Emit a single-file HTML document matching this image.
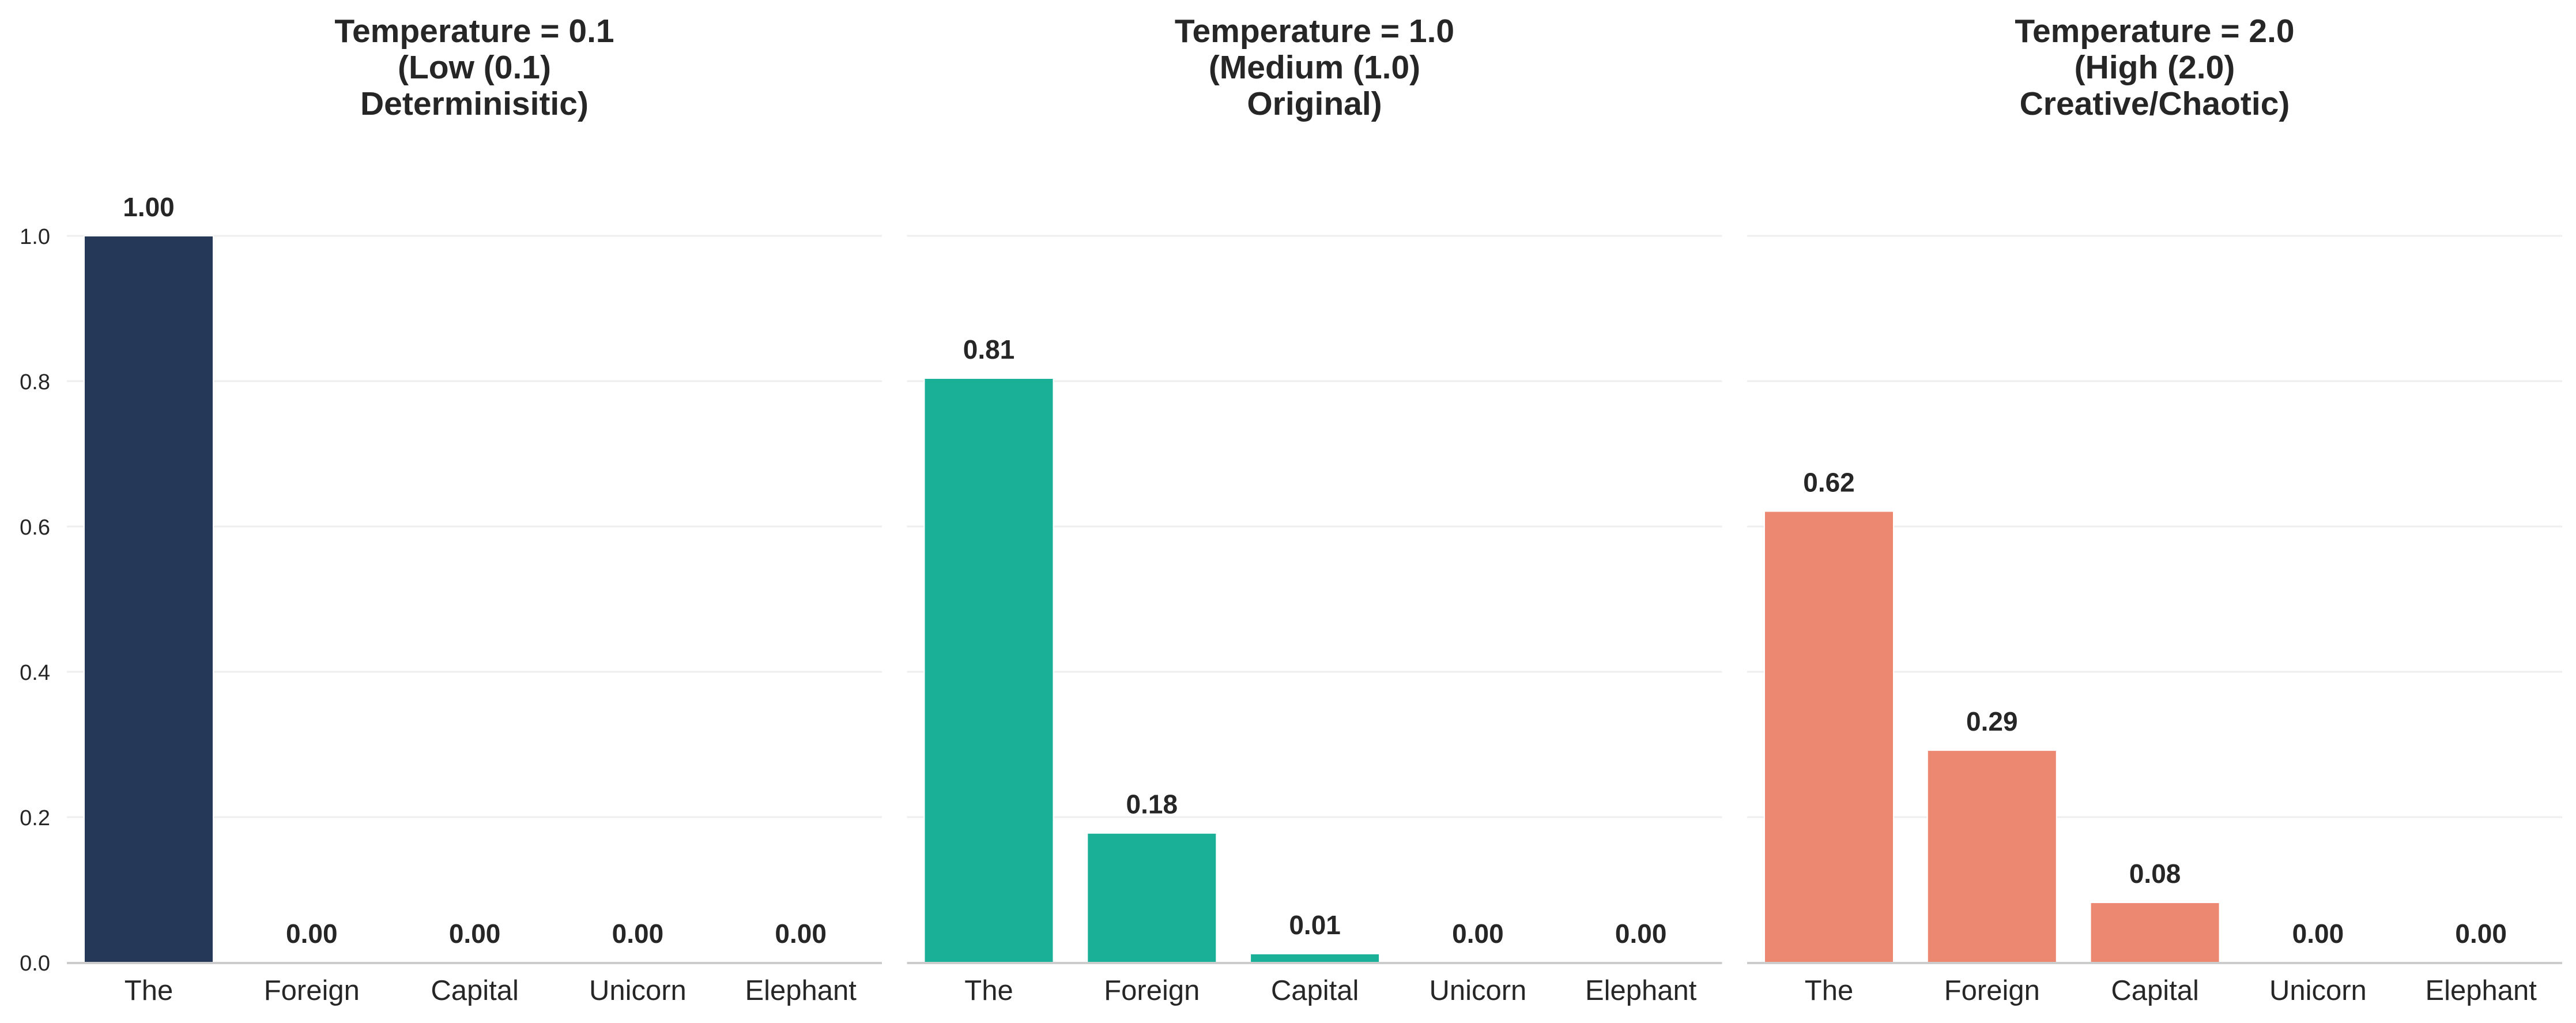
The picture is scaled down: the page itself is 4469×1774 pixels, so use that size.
<!DOCTYPE html>
<html><head><meta charset="utf-8"><style>
html,body{margin:0;padding:0;background:#fff;}
svg{display:block;}
text{font-family:"Liberation Sans",Arial,sans-serif;fill:#262626;}
</style></head><body>
<svg id="s" width="4469" height="1774" xmlns="http://www.w3.org/2000/svg"></svg>
<script>
const s=document.getElementById('s');
const NS='http://www.w3.org/2000/svg';
function el(t,a,txt){const e=document.createElementNS(NS,t);for(const k in a)e.setAttribute(k,a[k]);if(txt!==undefined)e.textContent=txt;s.appendChild(e);return e;}
const P=[116,1573.5,3031],W=1414,Y0=1669,H=1260;
const cats=['The','Foreign','Capital','Unicorn','Elephant'];
const data=[[1.0,0,0,0,0],[0.804,0.178,0.012,0,0],[0.621,0.292,0.0825,0,0]];
const labs=[['1.00','0.00','0.00','0.00','0.00'],['0.81','0.18','0.01','0.00','0.00'],['0.62','0.29','0.08','0.00','0.00']];
const cols=['#253858','#1ab098','#ec8872'];
const titles=[['Temperature = 0.1','(Low (0.1)','Determinisitic)'],['Temperature = 1.0','(Medium (1.0)','Original)'],['Temperature = 2.0','(High (2.0)','Creative/Chaotic)']];
for(let p=0;p<3;p++){
  const x0=P[p];
  for(let k=1;k<=5;k++){const y=Y0-k*0.2*H;el('line',{x1:x0,x2:x0+W,y1:y,y2:y,stroke:'#eeeeee','stroke-width':3});}
  if(p===0){for(let k=0;k<=5;k++){const y=Y0-k*0.2*H;el('text',{x:87,y:y+14,'text-anchor':'end','font-size':38},(k*0.2).toFixed(1));}}
  for(let i=0;i<5;i++){
    const bx=x0+30+i*282.8,bw=224,h=data[p][i]*H;
    if(h>0)el('rect',{x:bx,y:Y0-h,width:bw,height:h,fill:cols[p],stroke:'#fff','stroke-width':2});
    el('text',{x:bx+bw/2,y:Y0-h-34,'text-anchor':'middle','font-size':46,'font-weight':'bold'},labs[p][i]);
    el('text',{x:bx+bw/2,y:1734,'text-anchor':'middle','font-size':49},cats[i]);
  }
  el('line',{x1:x0,x2:x0+W,y1:Y0+1,y2:Y0+1,stroke:'#cccccc','stroke-width':4});
  const cx=x0+W/2;
  titles[p].forEach((t,j)=>el('text',{x:cx,y:73+j*63,'text-anchor':'middle','font-size':57,'font-weight':'bold'},t));
}
</script>
</body></html>
